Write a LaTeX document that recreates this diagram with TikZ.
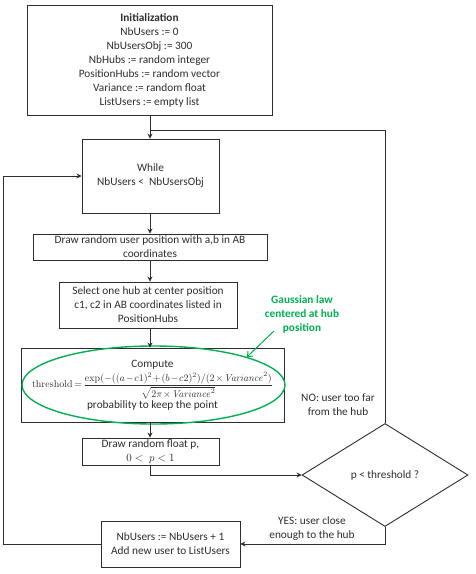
\documentclass[tikz,border=0pt]{standalone}
\usepackage[no-math]{fontspec}
\setmainfont{Carlito}
\usetikzlibrary{shapes.geometric,arrows.meta}
\definecolor{lawgreen}{RGB}{0,176,80}
\definecolor{ink}{RGB}{45,45,45}

\begin{document}
\begin{tikzpicture}[x=1pt,y=-1pt,
  font=\fontsize{11.3}{14}\selectfont,
  box/.style={draw=ink, line width=0.9pt, rectangle, align=center, inner sep=2pt, text=ink},
  label/.style={align=center, inner sep=0pt, text=ink},
  link/.style={draw=ink, line width=1pt, -{Stealth[length=5pt,width=5pt]}},
  plain/.style={draw=ink, line width=1pt},
  note/.style={align=center, inner sep=0pt, text=lawgreen, font=\fontsize{11.3}{14}\selectfont\bfseries}
]
\useasboundingbox (0,0) rectangle (475,574);

% process steps
\node[box, minimum width=245pt, minimum height=110pt] (init) at (149.5,60)
  {\textbf{Initialization}\\NbUsers := 0\\NbUsersObj := 300\\NbHubs := random integer\\
   PositionHubs := random vector\\Variance := random float\\ListUsers := empty list};
\node[box, minimum width=137pt, minimum height=74pt] (while) at (150.5,176)
  {While\\NbUsers <\ \ NbUsersObj};
\node[box, minimum width=234pt, minimum height=26pt] (user) at (150,247)
  {Draw random user position with a,b in AB\\coordinates};
\node[box, minimum width=178pt, minimum height=46pt] (hub) at (148,305)
  {Select one hub at center position\\c1, c2 in AB coordinates listed in\\PositionHubs};
\node[box, minimum width=263pt, minimum height=74pt] (compute) at (152.5,385)
  {Compute\\[2pt]
   {\fontsize{10}{12}\selectfont\medmuskip=1.5mu\thickmuskip=3mu
   $\displaystyle\mathrm{threshold}=\frac{\exp(-((a-c1)^2+(b-c2)^2)/(2\times \mathit{Variance}^2)}{\sqrt{2\pi\times \mathit{Variance}^2}}$}\\
   probability to keep the point};
\node[draw=lawgreen, line width=1.4pt, ellipse, minimum width=263pt, minimum height=78pt, inner sep=0pt] (ell) at (153.5,385) {};
\node[box, minimum width=137pt, minimum height=27pt, inner sep=1pt] (float) at (150.5,451.5)
  {Draw random float p,\\$0<\ p<1$};
\node[diamond, draw=ink, line width=0.9pt, minimum width=166pt, minimum height=103pt, inner sep=0pt, text=ink] (test) at (385,475)
  {p < threshold ?};
\node[box, minimum width=139pt, minimum height=46pt] (add) at (170.5,544)
  {NbUsers := NbUsers + 1\\Add new user to ListUsers};

% annotations
\node[note] (gauss) at (302,314) {Gaussian law\\centered at hub\\position};
\node[label] (no) at (338,405) {NO: user too far\\from the hub};
\node[label] (yes) at (312,529) {YES: user close\\enough to the hub};

% helper points
\coordinate (join) at (150,130);
\coordinate (lft) at (3,544);
\coordinate (gtail) at (274,331);

% connectors
\draw[plain] (init.south -| join) -- (join);
\draw[link] (join) -- (join |- while.north);
\draw[plain] (test.north) |- (join);
\draw[link] (while.south -| join) -- (join |- user.north);
\draw[link] (user.south -| join) -- (join |- hub.north);
\draw[link] (hub.south -| join) -- (join |- compute.north);
\draw[link] (compute.south -| join) -- (join |- float.north);
\draw[link] (float.south) |- (test.west);
\draw[link] (test.south) |- (add.east);
\draw[link] (add.west) -- (lft) |- (while.west);
\draw[draw=lawgreen, line width=1pt, -{Straight Barb[length=4pt,width=7pt]}] (gtail) -- (ell.north east);
\end{tikzpicture}
\end{document}
